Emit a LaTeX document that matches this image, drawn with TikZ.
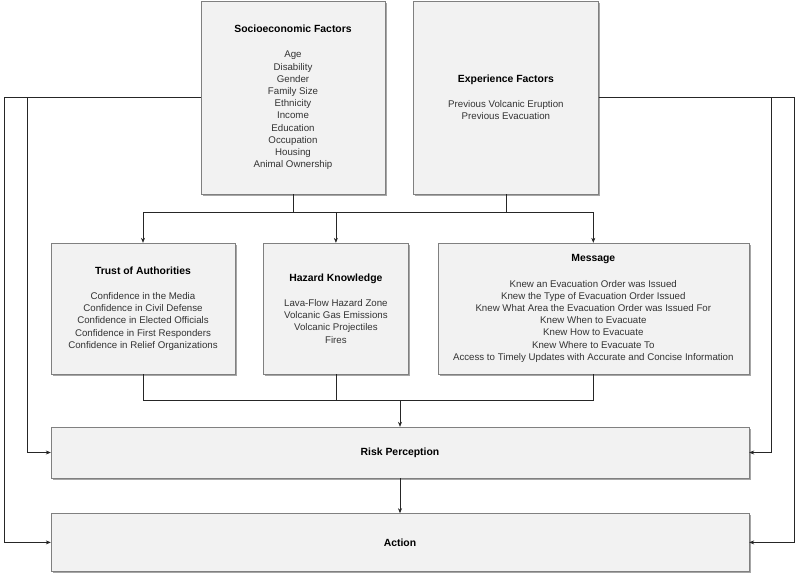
\documentclass[tikz,border=0pt]{standalone}
\usepackage{fontspec}
\setmainfont{Liberation Sans}
\usetikzlibrary{arrows.meta, positioning, shadows}

\newcommand{\boxhead}[1]{{\color{black}\fontsize{10.4}{12}\selectfont\bfseries #1}\\[13pt]}

\begin{document}
\begin{tikzpicture}[
    x=1pt, y=-1pt,
    factor/.style={rectangle, draw=black!50, fill=black!5, drop shadow={shadow xshift=2pt, shadow yshift=-2pt, fill=black!35, opacity=1}, align=center, inner sep=0pt, font=\fontsize{9.7}{12.2}\selectfont, text=black!80},
    arrow/.style={-{Stealth[length=5pt, width=4pt]}, black!85, line width=0.6pt},
    link/.style={black!85, line width=0.6pt}
]
\useasboundingbox (0,0) rectangle (800,574);

% Top row
\node[factor, minimum width=184pt, minimum height=193pt] (socio) at (293,97.5) {\boxhead{Socioeconomic Factors}Age\\Disability\\Gender\\Family Size\\Ethnicity\\Income\\Education\\Occupation\\Housing\\Animal Ownership};
\node[factor, minimum width=185pt, minimum height=193pt, right=28pt of socio] (exper) {\boxhead{Experience Factors}Previous Volcanic Eruption\\Previous Evacuation};

% Middle row
\node[factor, minimum width=184pt, minimum height=131pt] (trust) at (143,308.5) {\boxhead{Trust of Authorities}Confidence in the Media\\Confidence in Civil Defense\\Confidence in Elected Officials\\Confidence in First Responders\\Confidence in Relief Organizations};
\node[factor, minimum width=145pt, minimum height=131pt, right=28pt of trust] (hazard) {\boxhead{Hazard Knowledge}Lava-Flow Hazard Zone\\Volcanic Gas Emissions\\Volcanic Projectiles\\Fires};
\node[factor, minimum width=311pt, minimum height=131pt, right=29pt of hazard] (message) {\boxhead{Message}Knew an Evacuation Order was Issued\\Knew the Type of Evacuation Order Issued\\Knew What Area the Evacuation Order was Issued For\\Knew When to Evacuate\\Knew How to Evacuate\\Knew Where to Evacuate To\\Access to Timely Updates with Accurate and Concise Information};

% Bottom row
\node[factor, minimum width=698pt, minimum height=51pt] (risk) at (400,452.5) {\color{black}\fontsize{10.4}{12}\selectfont\bfseries Risk Perception};
\node[factor, minimum width=698pt, minimum height=58pt, below=35pt of risk] (action) {\color{black}\fontsize{10.4}{12}\selectfont\bfseries Action};

% Junctions
\coordinate (split) at (293,212);
\coordinate (merge) at (400,400);
\coordinate (lin) at (27,0);
\coordinate (lout) at (4,0);
\coordinate (rin) at (771,0);
\coordinate (rout) at (794,0);

% Arrows
\draw[arrow] (socio.south) -- (split) -| (trust.north);
\draw[arrow] (split) -| (hazard.north);
\draw[arrow] (split) -| (message.north);
\draw[link] (exper.south) -- (exper.south |- split);
\draw[link] (trust.south) |- (merge);
\draw[link] (message.south) |- (merge);
\draw[link] (hazard.south) -- (hazard.south |- merge);
\draw[arrow] (merge) -- (risk.north);
\draw[arrow] (risk.south) -- (action.north);
\draw[arrow] (socio.west) -- (socio.west -| lin) |- (risk.west);
\draw[arrow] (socio.west) -- (socio.west -| lout) |- (action.west);
\draw[arrow] (exper.east) -- (exper.east -| rin) |- (risk.east);
\draw[arrow] (exper.east) -- (exper.east -| rout) |- (action.east);

\end{tikzpicture}
\end{document}
